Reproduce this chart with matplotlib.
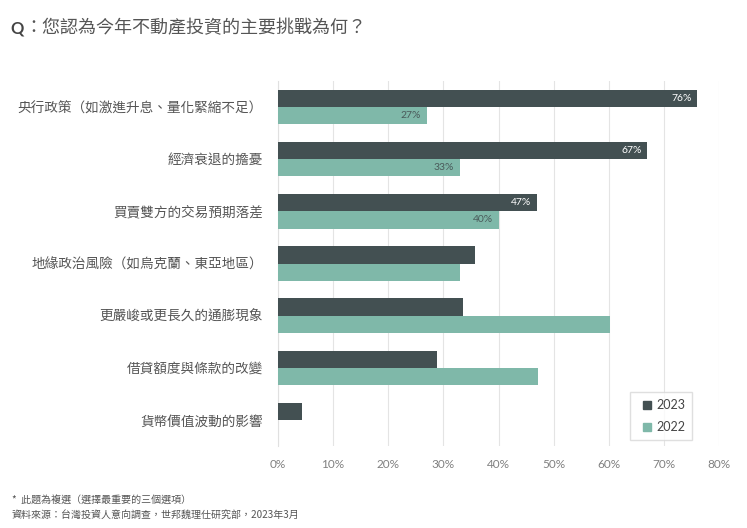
import matplotlib.pyplot as plt
from matplotlib.lines import Line2D
import numpy as np

plt.rcParams['font.family'] = ['Noto Sans CJK TC', 'DejaVu Sans']

categories = [
    "央行政策（如激進升息、量化緊縮不足）",
    "經濟衰退的擔憂",
    "買賣雙方的交易預期落差",
    "地緣政治風險（如烏克蘭、東亞地區）",
    "更嚴峻或更長久的通膨現象",
    "借貸額度與條款的改變",
    "貨幣價值波動的影響",
]
values_2023 = [76, 67, 47, 35.7, 33.5, 28.9, 4.4]
values_2022 = [27, 33, 40, 33.1, 60.2, 47.1, 0]
labels_2023 = ["76%", "67%", "47%", None, None, None, None]
labels_2022 = ["27%", "33%", "40%", None, None, None, None]
xticks = [0, 10, 20, 30, 40, 50, 60, 70, 80]

dark = "#435052"
teal = "#7fb8a9"
text_col = "#555555"

fig = plt.figure(figsize=(7.47, 5.28), dpi=100)
ax = fig.add_axes([278 / 747, 1 - 446 / 528, (719 - 278) / 747, (446 - 81) / 528])

y = np.arange(len(categories))
h = 0.33
ax.barh(y - h / 2, values_2023, height=h, color=dark, zorder=3)
ax.barh(y + h / 2, values_2022, height=h, color=teal, zorder=3)

for i, (v, lab) in enumerate(zip(values_2023, labels_2023)):
    if lab:
        ax.text(v - 1, i - h / 2, lab, ha="right", va="center", color="white",
                fontsize=7.5, family="Lato", zorder=4)
for i, (v, lab) in enumerate(zip(values_2022, labels_2022)):
    if lab:
        ax.text(v - 1, i + h / 2, lab, ha="right", va="center", color="#4a5a5a",
                fontsize=7.5, family="Lato", zorder=4)

ax.set_ylim(len(categories) - 0.5, -0.5)
ax.set_xlim(0, 80)
ax.set_xticks(xticks)
ax.set_xticklabels([f"{t}%" for t in xticks], family="Lato", fontsize=8.5, color="#808080")
ax.set_yticks(y)
ax.set_yticklabels(categories, fontsize=9.8, color=text_col)
ax.tick_params(axis="y", length=0, pad=11)
ax.tick_params(axis="x", length=0, pad=9)
ax.grid(axis="x", color="#e4e4e4", linewidth=0.8, zorder=0)
for s in ["top", "right", "bottom"]:
    ax.spines[s].set_visible(False)
ax.spines["left"].set_color("#e0e0e0")

handles = [Line2D([], [], linestyle="none", marker="s", markersize=5.5, color=dark),
           Line2D([], [], linestyle="none", marker="s", markersize=5.5, color=teal)]
leg = ax.legend(handles, ["2023", "2022"], loc="lower right",
                bbox_to_anchor=(0.9388, 0.0164), borderaxespad=0,
                handlelength=1.6, handletextpad=-0.05,
                labelspacing=0.8, borderpad=0.55, fancybox=False,
                edgecolor="#d8d8d8", prop={"family": "Lato", "size": 9})
for t in leg.get_texts():
    t.set_color("#444444")

fig.text(10 / 747, 1 - 33 / 528, "Q", fontsize=12, fontweight="bold", color="#444444",
         va="baseline", family="Lato")
fig.text(24 / 747, 1 - 33 / 528, "：您認為今年不動產投資的主要挑戰為何？", fontsize=13,
         color="#555555", va="baseline")
fig.text(12 / 747, 1 - 501 / 528, "*  此題為複選（選擇最重要的三個選項）", fontsize=7.2,
         color="#555555", va="center")
fig.text(12 / 747, 1 - 516 / 528, "資料來源：台灣投資人意向調查，世邦魏理仕研究部，2023年3月",
         fontsize=7.2, color="#555555", va="center")

fig.savefig("out.png", dpi=100)
